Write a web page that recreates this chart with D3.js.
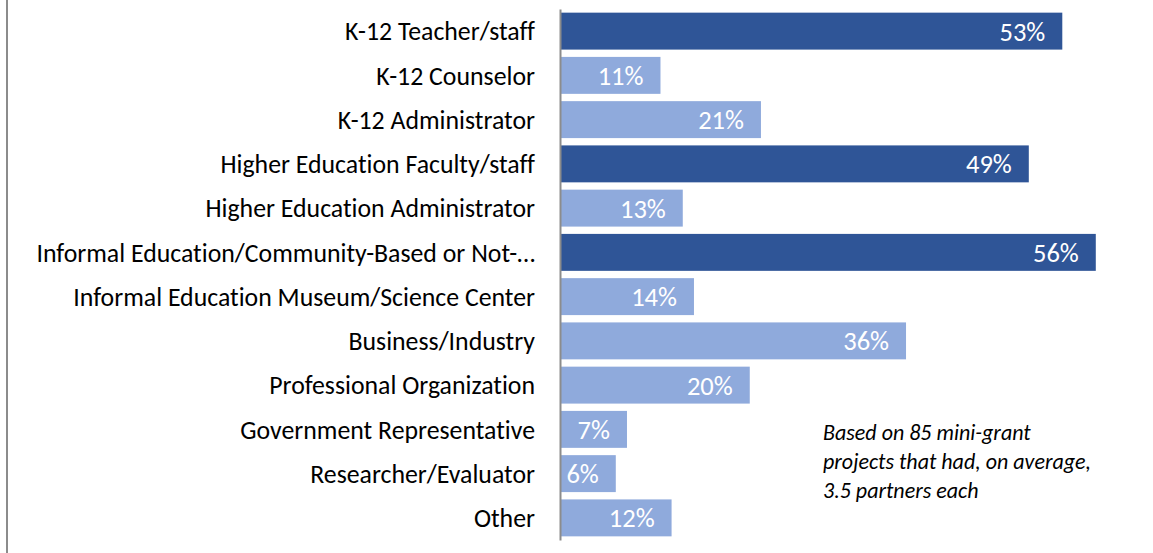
<!DOCTYPE html>
<html><head><meta charset="utf-8">
<script src="https://cdn.jsdelivr.net/npm/d3@7"></script>
<style>
html,body{margin:0;padding:0;background:#fff;}
svg{display:block;font-family:Carlito, Lato, sans-serif;font-variant-ligatures:none;}
</style></head>
<body>
<svg id="chart" width="1153" height="553"></svg>
<script>
const categories = [
  "K-12 Teacher/staff",
  "K-12 Counselor",
  "K-12 Administrator",
  "Higher Education Faculty/staff",
  "Higher Education Administrator",
  "Informal Education/Community-Based or Not-\u2026",
  "Informal Education Museum/Science Center",
  "Business/Industry",
  "Professional Organization",
  "Government Representative",
  "Researcher/Evaluator",
  "Other"
];
const values = [52.94, 10.59, 21.18, 49.41, 12.94, 56.47, 14.12, 36.47, 20.0, 7.06, 5.88, 11.76];
const highlighted = [true, false, false, true, false, true, false, false, false, false, false, false];
const noteLines = ["Based on 85 mini-grant", "projects that had, on average,", "3.5 partners each"];

const svg = d3.select("#chart");
const x = d3.scaleLinear().domain([0, 60]).range([560, 560 + 60 * 9.488]);
const y = d3.scaleBand().domain(categories).range([9, 540]).paddingInner(0.165).paddingOuter(0.0825);

// left frame line
svg.append("line").attr("x1", 7).attr("x2", 7).attr("y1", 0).attr("y2", 553)
  .attr("stroke", "#8c8c8c").attr("stroke-width", 2);

svg.selectAll("rect.bar").data(values).join("rect")
  .attr("class", "bar")
  .attr("x", x(0))
  .attr("y", (d, i) => y(categories[i]))
  .attr("width", d => x(d) - x(0))
  .attr("height", y.bandwidth())
  .attr("fill", (d, i) => highlighted[i] ? "#2F5597" : "#8FAADC");

svg.selectAll("text.val").data(values).join("text")
  .attr("class", "val")
  .attr("x", d => x(d) - 17)
  .attr("y", (d, i) => y(categories[i]) + y.bandwidth() / 2)
  .attr("dy", "0.36em")
  .attr("text-anchor", "end")
  .attr("fill", "#fff")
  .attr("font-size", 26.5)
  .text(d => Math.round(d) + "%");

// category axis
const axis = d3.axisLeft(y).tickSize(0).tickPadding(25);
const g = svg.append("g").attr("transform", `translate(${x(0)},0)`).call(axis);
g.select(".domain").attr("stroke", "#8c8c8c").attr("stroke-width", 2);
g.selectAll(".tick text").attr("font-size", 25.8).attr("fill", "#000")
  .attr("font-family", "Carlito, Lato, sans-serif").attr("dy", "0.36em");

svg.append("text").attr("x", 823).attr("y", 440)
  .attr("font-size", 22).attr("font-style", "italic").attr("fill", "#000")
  .selectAll("tspan").data(noteLines).join("tspan")
  .attr("x", 823).attr("dy", (d, i) => i === 0 ? 0 : 29)
  .text(d => d);
</script>
</body></html>
